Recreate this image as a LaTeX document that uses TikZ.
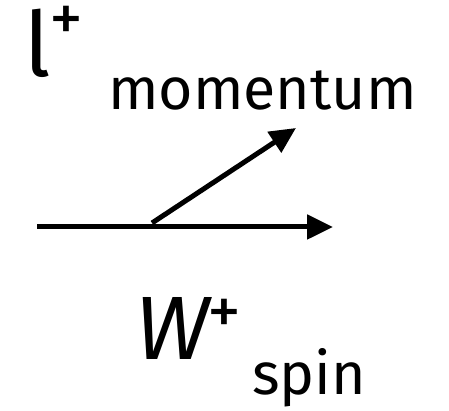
\documentclass[tikz,border=0pt]{standalone}
\usepackage{fontspec}
\setmainfont{Fira Sans}
\usepackage{tikz}
\usetikzlibrary{arrows.meta,positioning}
\tikzset{
  bigtxt/.style={inner sep=0pt,anchor=base west,font=\fontsize{90}{90}\selectfont},
  subtxt/.style={inner sep=0pt,anchor=base west,font=\fontsize{59}{59}\selectfont},
  suptxt/.style={inner sep=0pt,anchor=base,text height=0.55em,text depth=0pt,
                 font=\fontsize{68}{68}\selectfont},
  vecarr/.style={-{Triangle[length=26pt,width=24pt]},line width=5pt,color=black}
}
\begin{document}
\begin{tikzpicture}[x=1pt,y=1pt]
  \useasboundingbox (0,0) rectangle (449,411);
  % labels
  \node[bigtxt] (lep) at (24,334) {l};
  \node[suptxt] (lepsup) at (66,369) {+};
  \node[subtxt] (mom) at (108,301) {momentum};
  \node[bigtxt,font=\fontsize{90}{90}\itshape] (wb) at (135,51) {W};
  \node[suptxt] (wsup) at (224,76) {+};
  \node[subtxt] (spin) at (252,16) {spin};
  % vectors
  \coordinate (spinstart) at (37,184);
  \coordinate (spinend) at (333,184);
  \coordinate (momstart) at (152,188);
  \coordinate (momend) at (296,283);
  \draw[vecarr] (spinstart)--(spinend);
  \draw[vecarr] (momstart)--(momend);
\end{tikzpicture}
\end{document}
